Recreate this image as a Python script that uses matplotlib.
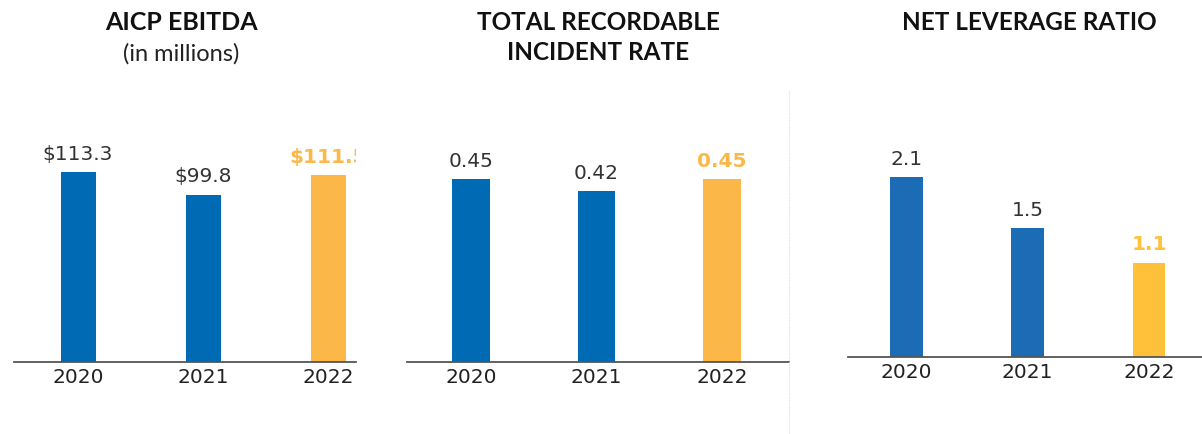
import matplotlib
matplotlib.use("Agg")
import matplotlib.pyplot as plt
from matplotlib.lines import Line2D

years = ["2020", "2021", "2022"]
ebitda = [113.3, 99.8, 111.5]
ebitda_labels = ["$113.3", "$99.8", "$111.5"]
trir = [0.45, 0.42, 0.45]
trir_labels = ["0.45", "0.42", "0.45"]
leverage = [2.1, 1.5, 1.1]
leverage_labels = ["2.1", "1.5", "1.1"]

plt.rcParams['font.family'] = ['Lato', 'DejaVu Sans']
NUMFONT = ['DejaVu Sans']

W, H = 1202, 434
fig = plt.figure(figsize=(W / 100, H / 100), dpi=100)

def px_axes(left, right, top, bottom):
    return fig.add_axes([left / W, (H - bottom) / H, (right - left) / W, (bottom - top) / H])

panels = [
    dict(vals=ebitda, labels=ebitda_labels, box=(14, 356, 90, 362), xlim=(-0.512, 2.224),
         ylim=(0, 162.2), width=0.28, blue="#006AB5", orange="#FBB848", clip=True),
    dict(vals=trir, labels=trir_labels, box=(407, 789, 90, 362), xlim=(-0.51, 2.534),
         ylim=(0, 0.669), width=0.30, blue="#006AB5", orange="#FBB848", clip=False),
    dict(vals=leverage, labels=leverage_labels, box=(848, 1202, 90, 357), xlim=(-0.482, 2.437),
         ylim=(0, 3.115), width=0.27, blue="#1B6CB5", orange="#FFC03A", clip=False),
]

for p in panels:
    ax = px_axes(*p["box"])
    x = list(range(len(years)))
    colors = [p["blue"], p["blue"], p["orange"]]
    ax.bar(x, p["vals"], width=p["width"], color=colors, zorder=2)
    ax.set_xlim(*p["xlim"])
    ax.set_ylim(*p["ylim"])
    for s in ["top", "left", "right"]:
        ax.spines[s].set_visible(False)
    ax.spines["bottom"].set_color("#555555")
    ax.spines["bottom"].set_linewidth(1.3)
    ax.set_yticks([])
    ax.set_xticks(x)
    ax.set_xticklabels(years, fontsize=14.5, color="#222222", family=NUMFONT)
    ax.tick_params(axis="x", length=0, pad=4)
    ax.patch.set_alpha(0)
    for i, (v, lab) in enumerate(zip(p["vals"], p["labels"])):
        last = i == len(years) - 1
        t = ax.annotate(lab, (i, v), xytext=(0, 6), textcoords="offset points",
                        ha="center", va="bottom", fontsize=14.5, family=NUMFONT,
                        color=p["orange"] if last else "#333333",
                        fontweight="bold" if last else "normal",
                        annotation_clip=False)
        if p["clip"]:
            t.set_clip_on(True)
            t.set_clip_box(ax.bbox)

def ftxt(xp, yp, s, **kw):
    fig.text(xp / W, 1 - yp / H, s, ha="center", va="center", **kw)

ftxt(181, 23, "AICP EBITDA", fontsize=18, fontweight="bold", color="#111111")
ftxt(181, 54, "(in millions)", fontsize=17, color="#222222")
ftxt(598, 23, "TOTAL RECORDABLE", fontsize=17.5, fontweight="bold", color="#111111")
ftxt(598, 52, "INCIDENT RATE", fontsize=17.5, fontweight="bold", color="#111111")
ftxt(1029, 23, "NET LEVERAGE RATIO", fontsize=17.5, fontweight="bold", color="#111111")

fig.add_artist(Line2D([789 / W, 789 / W], [0, 1 - 90 / H], color="#dddddd",
                      linewidth=0.8, linestyle=(0, (1, 1)), transform=fig.transFigure))

fig.savefig("out.png", dpi=100)
